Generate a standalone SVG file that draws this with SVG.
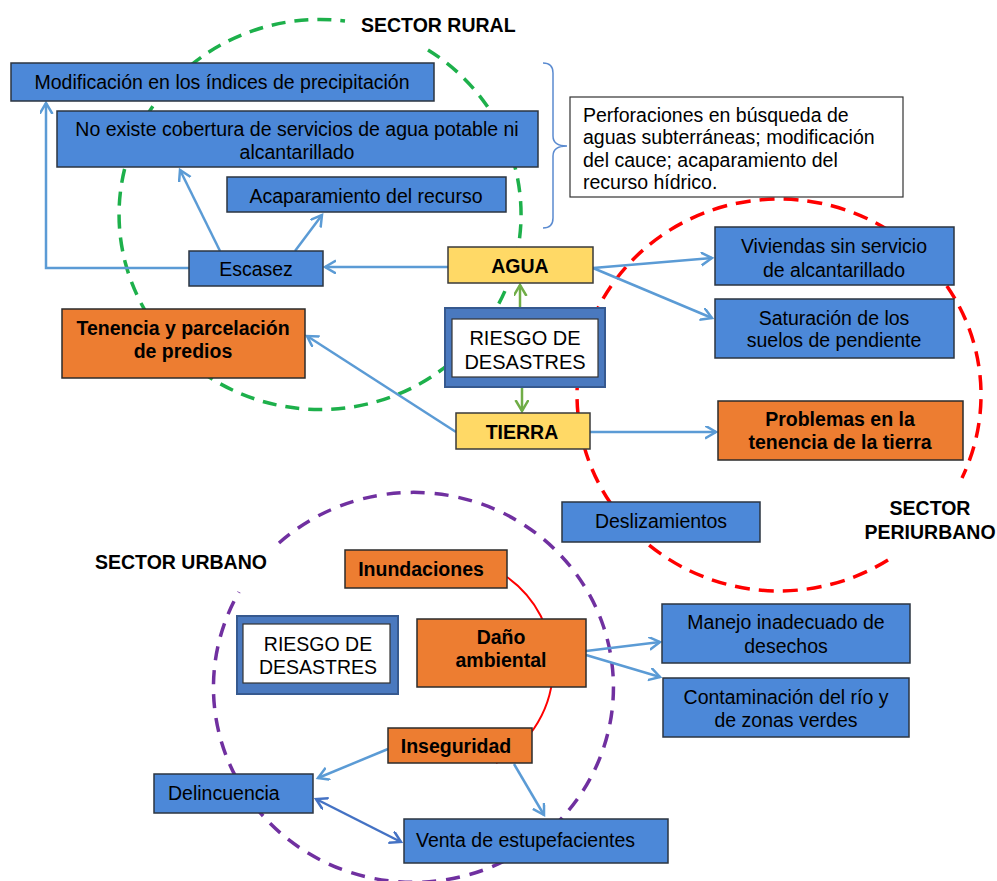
<svg xmlns="http://www.w3.org/2000/svg" width="997" height="881" viewBox="0 0 997 881">
<defs>
<style>
.b{fill:#4C88D8;stroke:#2B3440;stroke-width:1.5}
.o{fill:#ED7D31;stroke:#2B2B2B;stroke-width:1.5}
.y{fill:#FFD966;stroke:#3A3A3A;stroke-width:1.5}
.w{fill:#FFFFFF;stroke:#333;stroke-width:1.2}
.rk{fill:#4A79BF;stroke:#36598F;stroke-width:2}
.t{font-family:"Liberation Sans",Arial,sans-serif;font-size:19.5px;fill:#000}
.bd{font-weight:bold}
.m{text-anchor:middle}
.cn{fill:none;stroke:#5B9BD5;stroke-width:2.5}
.g{fill:none;stroke:#70AD47;stroke-width:2.5}
.dk{fill:none;stroke:#4472C4;stroke-width:2.5}
.sec{font-family:"Liberation Sans",Arial,sans-serif;font-size:19.5px;font-weight:bold;fill:#000}
</style>
<marker id="ab" markerUnits="userSpaceOnUse" markerWidth="16" markerHeight="16" refX="11" refY="6.5" orient="auto-start-reverse"><path d="M0,0 L11,6.5 L0,13" fill="none" stroke="#5B9BD5" stroke-width="2.5"/></marker>
<marker id="ag" markerUnits="userSpaceOnUse" markerWidth="16" markerHeight="16" refX="11" refY="6.5" orient="auto-start-reverse"><path d="M0,0 L11,6.5 L0,13" fill="none" stroke="#70AD47" stroke-width="2.5"/></marker>
<marker id="ad" markerUnits="userSpaceOnUse" markerWidth="16" markerHeight="16" refX="11" refY="6.5" orient="auto-start-reverse"><path d="M0,0 L11,6.5 L0,13" fill="none" stroke="#4472C4" stroke-width="2.5"/></marker>
</defs>
<rect width="997" height="881" fill="#FFFFFF"/>

<g id="sectors">
<path d="M428,50 A201,195 0 1 1 345,21" fill="none" stroke="#1DB04B" stroke-width="3.5" stroke-dasharray="14 9"/>
<path d="M888,560 A202,196 0 1 1 962,478" fill="none" stroke="#FF0000" stroke-width="3.5" stroke-dasharray="15 9"/>
<path d="M279,543 A200,195 0 1 1 239,592" fill="none" stroke="#7030A0" stroke-width="3.5" stroke-dasharray="14 10"/>
<path d="M507,577 A110,110 0 0 1 496,763" fill="none" stroke="#FF0000" stroke-width="2"/>
<text class="sec" x="361" y="32">SECTOR RURAL</text>
<text class="sec m" x="930" y="515">SECTOR</text>
<text class="sec m" x="930" y="539">PERIURBANO</text>
<text class="sec" x="95" y="569">SECTOR URBANO</text>
</g>

<g id="connectors">
<path class="cn" d="M448,267 L325,267" marker-end="url(#ab)"/>
<path class="cn" d="M189,268 L46,268 L46,103" marker-end="url(#ab)"/>
<path class="cn" d="M220,251 L180,170" marker-end="url(#ab)"/>
<path class="cn" d="M295,251 L322,215" marker-end="url(#ab)"/>
<path class="cn" d="M593,268 L712,258" marker-end="url(#ab)"/>
<path class="cn" d="M593,268 L712,318" marker-end="url(#ab)"/>
<path class="g" d="M520,308 L520,285" marker-end="url(#ag)"/>
<path class="g" d="M522,387 L522,411" marker-end="url(#ag)"/>
<path class="cn" d="M456,432 L307,336" marker-end="url(#ab)"/>
<path class="cn" d="M590,432 L716,432" marker-end="url(#ab)"/>
<path class="cn" d="M586,651 L660,642" marker-end="url(#ab)"/>
<path class="cn" d="M586,655 L660,677" marker-end="url(#ab)"/>
<path class="cn" d="M388,749 L318,778" marker-end="url(#ab)"/>
<path class="cn" d="M514,764 L544,815" marker-end="url(#ab)"/>
<path class="dk" d="M316,799 L401,842" marker-start="url(#ad)" marker-end="url(#ad)"/>
<path d="M543,63 Q553,63 553,73 L553,136 Q553,146 567,146 Q553,146 553,156 L553,218 Q553,228 543,228" fill="none" stroke="#5B8BD0" stroke-width="1.5"/>
</g>

<g id="n-modificacion"><rect class="b" x="11" y="63" width="423" height="38"/><text class="t m" x="222" y="89">Modificación en los índices de precipitación</text></g>
<g id="n-noexiste"><rect class="b" x="57" y="111" width="481" height="56"/><text class="t m" x="297" y="136">No existe cobertura de servicios de agua potable ni</text><text class="t m" x="297" y="159">alcantarillado</text></g>
<g id="n-acaparamiento"><rect class="b" x="227" y="177" width="279" height="35"/><text class="t m" x="366" y="203">Acaparamiento del recurso</text></g>
<g id="n-escasez"><rect class="b" x="189" y="251" width="134" height="35"/><text class="t m" x="256" y="276">Escasez</text></g>
<g id="n-agua"><rect class="y" x="448" y="247" width="145" height="36"/><text class="t bd m" x="520" y="273">AGUA</text></g>
<g id="n-perforaciones"><rect class="w" x="570" y="97" width="333" height="100"/><text class="t" x="583" y="122">Perforaciones en búsqueda de</text><text class="t" x="583" y="144">aguas subterráneas; modificación</text><text class="t" x="583" y="167">del cauce; acaparamiento del</text><text class="t" x="583" y="189">recurso hídrico.</text></g>
<g id="n-viviendas"><rect class="b" x="715" y="227" width="239" height="58"/><text class="t m" x="834" y="253">Viviendas sin servicio</text><text class="t m" x="834" y="277">de alcantarillado</text></g>
<g id="n-saturacion"><rect class="b" x="715" y="299" width="239" height="59"/><text class="t m" x="834" y="325">Saturación de los</text><text class="t m" x="834" y="347">suelos de pendiente</text></g>
<g id="n-riesgo1"><rect class="rk" x="445" y="308" width="160" height="79"/><rect class="w" x="452" y="319" width="146" height="58"/><text class="t m" style="font-size:20px" x="525" y="345">RIESGO DE</text><text class="t m" style="font-size:20px" x="525" y="369">DESASTRES</text></g>
<g id="n-tenencia"><rect class="o" x="62" y="309" width="243" height="69"/><text class="t bd m" x="183" y="335">Tenencia y parcelación</text><text class="t bd m" x="183" y="358">de predios</text></g>
<g id="n-tierra"><rect class="y" x="456" y="413" width="134" height="36"/><text class="t bd m" x="522" y="439">TIERRA</text></g>
<g id="n-problemas"><rect class="o" x="718" y="401" width="245" height="59"/><text class="t bd m" x="840" y="426">Problemas en la</text><text class="t bd m" x="840" y="449">tenencia de la tierra</text></g>
<g id="n-deslizamientos"><rect class="b" x="562" y="502" width="198" height="40"/><text class="t m" x="661" y="528">Deslizamientos</text></g>
<g id="n-inundaciones"><rect class="o" x="345" y="550" width="162" height="38"/><text class="t bd m" x="421" y="576">Inundaciones</text></g>
<g id="n-riesgo2"><rect class="rk" x="237" y="616" width="161" height="78"/><rect class="w" x="243" y="624" width="147" height="59"/><text class="t m" x="318" y="651">RIESGO DE</text><text class="t m" x="318" y="674">DESASTRES</text></g>
<g id="n-dano"><rect class="o" x="417" y="619" width="169" height="68"/><text class="t bd m" x="501" y="644">Daño</text><text class="t bd m" x="501" y="667">ambiental</text></g>
<g id="n-manejo"><rect class="b" x="662" y="604" width="248" height="59"/><text class="t m" x="786" y="629">Manejo inadecuado de</text><text class="t m" x="786" y="653">desechos</text></g>
<g id="n-contaminacion"><rect class="b" x="663" y="678" width="246" height="59"/><text class="t m" x="786" y="704">Contaminación del río y</text><text class="t m" x="786" y="727">de zonas verdes</text></g>
<g id="n-inseguridad"><rect class="o" x="388" y="728" width="144" height="35"/><text class="t bd m" x="456" y="753">Inseguridad</text></g>
<g id="n-delincuencia"><rect class="b" x="154" y="774" width="159" height="39"/><text class="t" x="168" y="800">Delincuencia</text></g>
<g id="n-venta"><rect class="b" x="404" y="819" width="264" height="44"/><text class="t" x="416" y="847">Venta de estupefacientes</text></g>
</svg>
